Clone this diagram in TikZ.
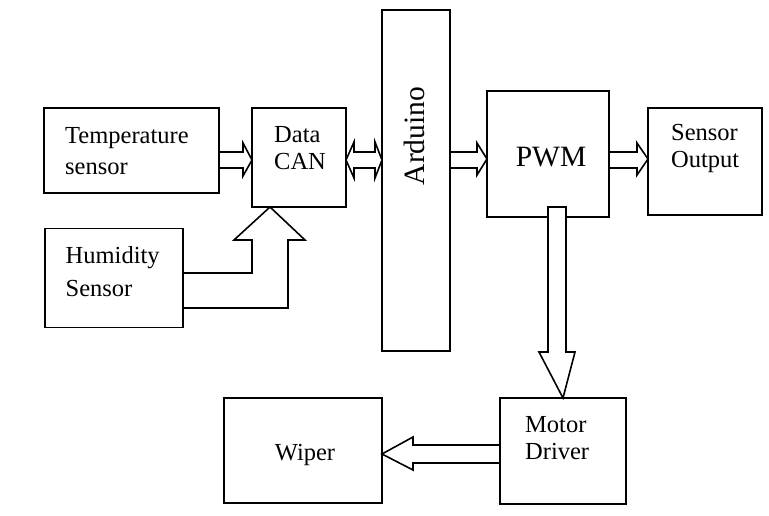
\documentclass[tikz,border=0pt]{standalone}
\usepackage{fontspec}
\setmainfont{Liberation Serif}
\usetikzlibrary{calc,backgrounds}
\tikzset{
  blockbox/.style={draw, line width=1.8pt, inner sep=0pt, outer sep=0pt},
  blk/.style={draw, fill=white, line width=1.6pt, line join=miter},
  lbl/.style={font=\fontsize{24.5}{27}\selectfont, align=left, inner sep=0pt, anchor=west},
  biglbl/.style={font=\fontsize{29.5}{32}\selectfont, inner sep=0pt}
}
\begin{document}
\begin{tikzpicture}[x=1pt,y=-1pt]
    \useasboundingbox (0,0) rectangle (769,516);
    % blocks
    \node[blockbox, minimum width=175pt, minimum height=85pt] (temp) at (131.5,150.5) {};
    \node[blockbox, minimum width=94pt, minimum height=99pt] (datacan) at (299,157.5) {};
    \node[blockbox, minimum width=138pt, minimum height=99pt] (hum) at (114,278) {};
    \node[blockbox, minimum width=68pt, minimum height=341pt] (arduino) at (416,180.5) {};
    \node[blockbox, minimum width=122pt, minimum height=126pt] (pwm) at (548,154) {};
    \node[blockbox, minimum width=114pt, minimum height=107pt] (sensout) at (705,161.5) {};
    \node[blockbox, minimum width=126pt, minimum height=106pt] (motor) at (563,451) {};
    \node[blockbox, minimum width=158pt, minimum height=105pt] (wiper) at (303,450.5) {};
    % texts
    \node[lbl, font=\fontsize{24.5}{31}\selectfont] (temptxt) at (65,151.5) {Temperature\\sensor};
    \node[lbl] (cantxt) at (274,148.5) {Data\\CAN};
    \node[lbl, font=\fontsize{24.5}{33}\selectfont] (humtxt) at (65.5,271.5) {Humidity\\Sensor};
    \node[lbl] (sotxt) at (671,148.5) {Sensor\\Output};
    \node[lbl] (mottxt) at (525,438.5) {Motor\\Driver};
    \node[lbl, anchor=center] (wipetxt) at (305,455) {Wiper};
    \node[biglbl] (pwmtxt) at (551,157) {PWM};
    \node[biglbl, rotate=90] (ardtxt) at (414,136) {Arduino};
    % block arrows
    \begin{scope}[on background layer]
    \draw[blk] (temp.east |- 0,152) -- (243,152) -- (243,143) -- (datacan.west |- 0,160)
        -- (243,176) -- (243,168) -- (temp.east |- 0,168);
    \draw[blk] (datacan.east |- 0,160) -- (354,142) -- (354,152) -- (375,152) -- (375,142)
        -- (arduino.west |- 0,160) -- (375,178) -- (375,168) -- (354,168) -- (354,178) -- cycle;
    \draw[blk] (arduino.east |- 0,152) -- (477,152) -- (477,143) -- (pwm.west |- 0,159)
        -- (477,175) -- (477,168) -- (arduino.east |- 0,168);
    \draw[blk] (pwm.east |- 0,152) -- (637,152) -- (637,143) -- (sensout.west |- 0,159)
        -- (637,175) -- (637,168) -- (pwm.east |- 0,168);
    \draw[blk] (motor.west |- 0,445) -- (413,445) -- (413,437) -- (wiper.east |- 0,454)
        -- (413,470) -- (413,463) -- (motor.west |- 0,463);
    \draw[blk] (hum.east |- 0,273) -- (252,273) -- (252,240) -- (234,240) -- (270,207)
        -- (305,240) -- (288,240) -- (288,308) -- (hum.east |- 0,308);
    \end{scope}
    \draw[blk] (548,207) -- (548,352) -- (539,352) -- (motor.north |- 0,398) -- (575,352)
        -- (566,352) -- (566,207) -- cycle;
\end{tikzpicture}
\end{document}
